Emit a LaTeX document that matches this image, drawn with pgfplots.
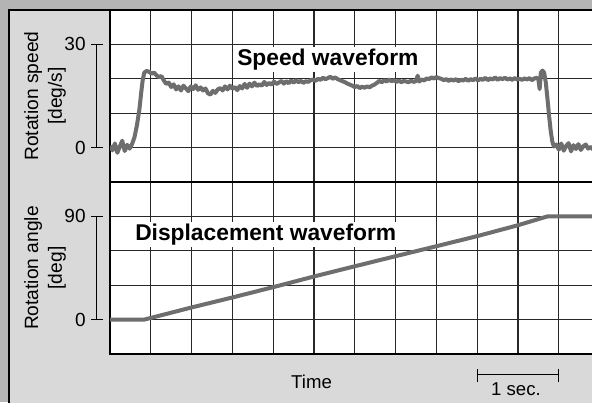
\documentclass[border=0pt]{standalone}
\usepackage{fontspec}
\setmainfont{Liberation Sans}
\usepackage{pgfplots}
\pgfplotsset{compat=1.18}
\definecolor{outerbg}{RGB}{180,180,180}
\definecolor{panelbg}{RGB}{217,217,217}
\definecolor{trace}{RGB}{110,110,110}
\definecolor{gridc}{RGB}{40,40,40}

\begin{document}
\begin{tikzpicture}[x=1pt,y=1pt]
\useasboundingbox (0,0) rectangle (296,201);
\clip (0,0) rectangle (296,201);
\fill[outerbg] (0,0) rectangle (296,201);
\fill[panelbg] (4.5,-10) rectangle (310,196);
\draw[line width=0.6pt] (4.5,-10) -- (4.5,196) -- (310,196);

\pgfplotsset{
  panel/.style={
    scale only axis, width=265.2pt, height=86pt,
    xmin=0, xmax=6.5, xtick={0,0.5,...,6.5}, xticklabels={},
    major tick length=0pt,
    grid=major, grid style={gridc, line width=0.6pt},
    axis line style={black, line width=0.6pt},
    axis background/.style={fill=white},
    clip mode=individual,
    tick label style={font=\fontsize{9.5}{11}\selectfont},
    yticklabel style={inner sep=0pt, xshift=-12pt},
    ylabel style={at={(axis description cs:-0.1225,0.5)}, anchor=center, align=center, font=\fontsize{9.6}{11.9}\selectfont},
    /pgf/number format/assume math mode=true,
  }
}

\begin{axis}[panel, at={(55pt,196pt)}, anchor=north west,
  ymin=-10, ymax=40, ytick={-10,0,...,40}, yticklabels={,0,,,30,},
  ylabel={Rotation speed\\{}[deg/s]}]
\addplot[trace, line width=2pt, line join=round] coordinates {
(0,0.5) (0.03,-0.8) (0.06,1.2) (0.09,-1.5) (0.12,0.3) (0.15,2.0) (0.18,-1.0) (0.21,0.8) (0.24,-0.3) (0.27,1.0) (0.30,3.0) (0.33,6.5) (0.36,11.0) (0.38,15.5) (0.40,19.5) (0.42,21.8) (0.45,22.3) (0.48,22.0) (0.51,21.5) (0.54,21.8) (0.57,21.0) (0.60,20.5) (0.63,20.8) (0.66,19.5) (0.69,18.5) (0.72,18.9) (0.75,17.6) (0.78,18.4) (0.81,16.9) (0.84,17.8) (0.87,16.6) (0.90,18.0) (0.93,17.2) (0.96,16.4) (0.99,17.8) (1.02,17.0) (1.05,18.1) (1.08,16.8) (1.11,17.5) (1.14,16.6) (1.17,17.2) (1.20,15.8) (1.23,15.4) (1.26,16.5) (1.29,15.9) (1.32,16.9) (1.35,17.3) (1.38,16.6) (1.41,17.8) (1.44,16.9) (1.47,18.0) (1.50,17.1) (1.53,17.6) (1.56,16.7) (1.59,17.9) (1.62,17.2) (1.65,18.5) (1.68,17.4) (1.71,18.6) (1.74,17.8) (1.77,18.9) (1.80,17.9) (1.83,18.4) (1.86,18.0) (1.89,19.1) (1.92,18.2) (1.95,18.8) (1.98,18.3) (2.01,19.2) (2.04,18.5) (2.07,18.9) (2.10,19.4) (2.13,18.6) (2.16,19.3) (2.19,18.7) (2.22,19.5) (2.25,18.9) (2.28,19.6) (2.31,19.0) (2.34,19.4) (2.37,18.8) (2.40,19.3) (2.43,19.1) (2.46,19.6) (2.49,19.8) (2.52,19.4) (2.55,20.0) (2.58,19.7) (2.61,20.3) (2.64,19.9) (2.67,20.2) (2.70,20.6) (2.73,20.0) (2.76,20.4) (2.79,19.9) (2.82,19.6) (2.85,19.3) (2.88,19.0) (2.91,18.6) (2.94,18.3) (2.97,18.0) (3.00,17.6) (3.03,17.9) (3.06,17.3) (3.09,17.7) (3.12,17.4) (3.15,17.8) (3.18,17.5) (3.21,18.0) (3.24,18.3) (3.27,18.8) (3.30,19.4) (3.33,19.0) (3.36,19.6) (3.39,19.2) (3.42,19.8) (3.45,19.3) (3.48,19.6) (3.51,19.1) (3.54,19.5) (3.57,19.0) (3.60,19.4) (3.63,19.2) (3.66,19.0) (3.69,19.5) (3.72,19.1) (3.75,19.3) (3.77,20.9) (3.79,19.2) (3.82,19.8) (3.85,19.5) (3.88,20.1) (3.91,19.9) (3.94,20.4) (3.97,20.1) (4.00,20.5) (4.03,20.2) (4.06,20.0) (4.09,19.6) (4.12,19.9) (4.15,19.4) (4.18,19.8) (4.21,19.5) (4.24,19.9) (4.27,19.3) (4.30,19.7) (4.33,19.5) (4.36,20.0) (4.39,19.4) (4.42,19.9) (4.45,19.6) (4.48,20.1) (4.51,19.5) (4.54,20.0) (4.57,19.7) (4.60,20.3) (4.63,19.6) (4.66,20.1) (4.69,19.8) (4.72,20.4) (4.75,19.7) (4.78,20.2) (4.81,19.9) (4.84,20.3) (4.87,19.8) (4.90,20.1) (4.93,19.7) (4.96,20.2) (4.99,19.8) (5.02,20.0) (5.05,19.7) (5.08,20.1) (5.11,19.8) (5.14,20.2) (5.17,19.6) (5.20,20.1) (5.23,20.3) (5.25,19.8) (5.265,17.0) (5.28,21.8) (5.30,22.4) (5.32,21.8) (5.34,19.0) (5.36,14.5) (5.38,9.5) (5.40,5.0) (5.42,1.8) (5.44,0.3) (5.47,0.9) (5.50,-0.6) (5.53,1.2) (5.56,-0.9) (5.59,0.5) (5.62,1.3) (5.65,-1.1) (5.68,0.7) (5.71,-0.4) (5.74,1.0) (5.77,-0.7) (5.80,0.4) (5.83,0.9) (5.86,-0.3) (5.89,0.2) (5.92,-0.5) (5.95,-0.6)
};
\draw[line width=0.5pt] ([xshift=-6.65pt]axis cs:0,0) -- ([xshift=-6.65pt]axis cs:0,30);
\draw[line width=0.5pt] ([xshift=-9.5pt]axis cs:0,0) -- ([xshift=-3.5pt]axis cs:0,0);
\draw[line width=0.5pt] ([xshift=-9.5pt]axis cs:0,30) -- ([xshift=-3.5pt]axis cs:0,30);
\node[anchor=base west, fill=white, inner sep=1pt, font=\bfseries\fontsize{11.4}{13}\selectfont] at (axis cs:1.53,23.9) {Speed waveform};
\end{axis}

\begin{axis}[panel, at={(55pt,110pt)}, anchor=north west,
  ymin=-30, ymax=120, ytick={-30,0,...,120}, yticklabels={,0,,,90,},
  ylabel={Rotation angle\\{}[deg]},
  xlabel={Time},
  xlabel style={at={(axis description cs:0.38,0)}, anchor=base, yshift=-17pt, font=\fontsize{9.3}{11}\selectfont}]
\addplot[trace, line width=2pt, line join=round] coordinates {
(0,0) (0.42,0) (1.0,10.6) (1.5,19.3) (2.0,28.3) (2.5,37.6) (3.0,46.5) (3.5,55.3) (4.0,64.0) (4.5,72.8) (5.0,82.3) (5.36,90) (6.5,90)
};
\draw[line width=0.5pt] ([xshift=-6.65pt]axis cs:0,0) -- ([xshift=-6.65pt]axis cs:0,90);
\draw[line width=0.5pt] ([xshift=-9.5pt]axis cs:0,0) -- ([xshift=-3.5pt]axis cs:0,0);
\draw[line width=0.5pt] ([xshift=-9.5pt]axis cs:0,90) -- ([xshift=-3.5pt]axis cs:0,90);
\node[anchor=base west, fill=white, inner sep=1pt, font=\bfseries\fontsize{11.4}{13}\selectfont] at (axis cs:0.28,68.8) {Displacement waveform};
\draw[line width=0.5pt] ([yshift=-10pt]axis cs:4.5,-30) -- ([yshift=-10pt]axis cs:5.5,-30);
\draw[line width=0.5pt] ([yshift=-7.5pt]axis cs:4.5,-30) -- ([yshift=-14pt]axis cs:4.5,-30);
\draw[line width=0.5pt] ([yshift=-7.5pt]axis cs:5.5,-30) -- ([yshift=-14pt]axis cs:5.5,-30);
\node[anchor=base, font=\fontsize{9.3}{11}\selectfont] at ([yshift=-20.5pt]axis cs:4.975,-30) {1 sec.};
\end{axis}
\end{tikzpicture}
\end{document}
